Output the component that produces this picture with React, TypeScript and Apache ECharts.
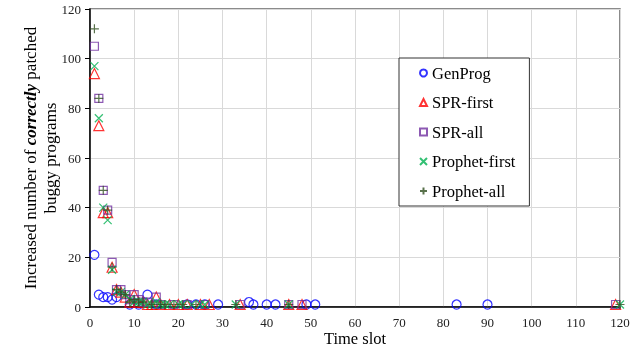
import React, { useEffect, useRef } from "react";
import * as echarts from "echarts";

const genProg: number[][] = [[1,21],[2,5],[3,4],[4,4],[5,3],[6,4],[9,1],[11,1],[13,5],[15,1],[22,1],[24,1],[26,1],[29,1],[36,2],[37,1],[40,1],[42,1],[49,1],[51,1],[83,1],[90,1]];
const sprFirst: number[][] = [[1,94],[2,73],[3,38],[4,38],[5,16],[6,7],[7,6],[8,4],[9,2],[10,5],[11,2],[12,2],[13,1],[14,1],[15,4],[16,1],[18,1],[20,1],[22,1],[25,1],[27,1],[34,1],[45,1],[48,1],[119,1]];
const sprAll: number[][] = [[1,105],[2,84],[3,47],[4,39],[5,18],[6,7],[7,7],[8,5],[9,3],[10,5],[11,3],[12,2],[13,2],[15,4],[16,1],[19,1],[22,1],[26,1],[34,1],[45,1],[48,1],[119,1]];
const prophetFirst: number[][] = [[1,97],[2,76],[3,40],[4,35],[5,15],[6,6],[7,6],[8,5],[9,3],[10,2],[11,2],[12,2],[13,1],[14,1],[15,2],[16,1],[17,1],[18,1],[20,1],[21,1],[23,1],[25,1],[26,1],[33,1],[45,1],[120,1]];
const prophetAll: number[][] = [[1,112],[2,84],[3,47],[4,39],[5,16],[6,7],[7,6],[8,5],[9,2],[10,3],[11,2],[12,2],[14,1],[16,1],[17,1],[19,1],[21,1],[24,1],[33,1],[45,1],[120,1]];

const seriesNames = ["GenProg", "SPR-first", "SPR-all", "Prophet-first", "Prophet-all"];
const FONT = "Liberation Serif";

export default function App() {
  const ref = useRef<HTMLDivElement>(null);
  useEffect(() => {
    if (!ref.current) return;
    const chart = echarts.init(ref.current, undefined, { renderer: "svg" });
    const mk = (name: string, data: number[][], symbol: string, size: number, color: string) => ({
      name,
      type: "scatter",
      data,
      symbol,
      symbolSize: size,
      itemStyle: { color: "rgba(0,0,0,0)", borderColor: color, borderWidth: 1.2 },
    });
    chart.setOption({
      animation: false,
      textStyle: { fontFamily: FONT },
      grid: { left: 90, right: 21, top: 9, bottom: 43, show: true, borderColor: "#666", borderWidth: 1.5, outerBoundsMode: "none", containLabel: false },
      xAxis: {
        type: "value", min: 0, max: 120, interval: 10,
        name: "Time slot", nameLocation: "middle", nameGap: 23, nameMoveOverlap: false,
        nameTextStyle: { fontFamily: FONT, fontSize: 16.5, color: "#000" },
        axisLine: { lineStyle: { color: "#000", width: 1.5 } },
        axisTick: { show: false },
        axisLabel: { fontFamily: FONT, fontSize: 13, color: "#222", margin: 9 },
        splitLine: { lineStyle: { color: "#d9d9d9", width: 1 } },
      },
      yAxis: {
        type: "value", min: 0, max: 120, interval: 20,
        name: "Increased number of {b|correctly} patched\nbuggy programs",
        nameLocation: "middle", nameGap: 30, nameRotate: 90, nameMoveOverlap: false,
        nameTextStyle: {
          fontFamily: FONT, fontSize: 17, color: "#000", lineHeight: 20,
          rich: { b: { fontFamily: FONT, fontSize: 17, fontWeight: "bold", fontStyle: "italic", color: "#000", lineHeight: 20 } },
        },
        axisLine: { show: true, lineStyle: { color: "#000", width: 1.5 } },
        axisTick: { show: true, length: 5, lineStyle: { color: "#000" } },
        axisLabel: { fontFamily: FONT, fontSize: 13, color: "#222", margin: 9 },
        splitLine: { lineStyle: { color: "#d9d9d9", width: 1 } },
      },
      legend: {
        data: seriesNames,
        orient: "vertical",
        left: 399, top: 58,
        padding: [6, 14, 6, 20],
        itemGap: 11.5,
        itemWidth: 7, itemHeight: 7,
        borderColor: "#333", borderWidth: 1,
        backgroundColor: "#fff",
        textStyle: { fontFamily: FONT, fontSize: 16.5, color: "#000", lineHeight: 18 },
      },
      series: [
        mk("GenProg", genProg, "circle", 9, "#0000ff"),
        mk("SPR-first", sprFirst, "triangle", 10, "#ff0000"),
        mk("SPR-all", sprAll, "rect", 8, "#7030a0"),
        mk("Prophet-first", prophetFirst, "path://M0,0L10,10M10,0L0,10", 8, "#00b050"),
        mk("Prophet-all", prophetAll, "path://M5,0L5,10M0,5L10,5", 9, "#2f4f1f"),
      ],
    });
    return () => chart.dispose();
  }, []);
  return <div ref={ref} style={{ width: 641, height: 350, position: "fixed", left: 0, top: 0 }} />;
}
